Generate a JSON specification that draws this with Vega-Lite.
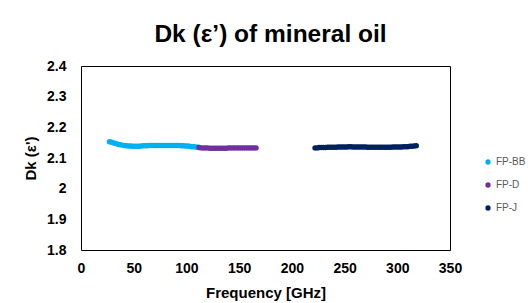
{
  "$schema": "https://vega.github.io/schema/vega-lite/v6.json",
  "width": 369,
  "height": 184,
  "autosize": {"type": "none"},
  "padding": {"left": 81, "top": 66, "right": 82, "bottom": 53},
  "background": "white",
  "title": {
    "text": "Dk (ε’) of mineral oil",
    "font": "Liberation Sans",
    "fontSize": 24.5,
    "fontWeight": "bold",
    "color": "#000000",
    "anchor": "middle",
    "baseline": "alphabetic",
    "offset": -7,
    "dx": 5
  },
  "data": {
    "values": [
      {"f": 27, "dk": 2.153, "s": "FP-BB"}, {"f": 29, "dk": 2.151, "s": "FP-BB"}, {"f": 31, "dk": 2.149, "s": "FP-BB"},
      {"f": 33, "dk": 2.147, "s": "FP-BB"}, {"f": 35, "dk": 2.145, "s": "FP-BB"}, {"f": 37, "dk": 2.143, "s": "FP-BB"},
      {"f": 39, "dk": 2.142, "s": "FP-BB"}, {"f": 41, "dk": 2.141, "s": "FP-BB"}, {"f": 43, "dk": 2.140, "s": "FP-BB"},
      {"f": 45, "dk": 2.139, "s": "FP-BB"}, {"f": 47, "dk": 2.139, "s": "FP-BB"}, {"f": 49, "dk": 2.138, "s": "FP-BB"},
      {"f": 51, "dk": 2.138, "s": "FP-BB"}, {"f": 53, "dk": 2.138, "s": "FP-BB"}, {"f": 55, "dk": 2.138, "s": "FP-BB"},
      {"f": 57, "dk": 2.139, "s": "FP-BB"}, {"f": 59, "dk": 2.140, "s": "FP-BB"}, {"f": 61, "dk": 2.140, "s": "FP-BB"},
      {"f": 63, "dk": 2.140, "s": "FP-BB"}, {"f": 65, "dk": 2.141, "s": "FP-BB"}, {"f": 67, "dk": 2.141, "s": "FP-BB"},
      {"f": 69, "dk": 2.141, "s": "FP-BB"}, {"f": 71, "dk": 2.141, "s": "FP-BB"}, {"f": 73, "dk": 2.141, "s": "FP-BB"},
      {"f": 75, "dk": 2.141, "s": "FP-BB"}, {"f": 77, "dk": 2.141, "s": "FP-BB"}, {"f": 79, "dk": 2.141, "s": "FP-BB"},
      {"f": 81, "dk": 2.141, "s": "FP-BB"}, {"f": 83, "dk": 2.141, "s": "FP-BB"}, {"f": 85, "dk": 2.141, "s": "FP-BB"},
      {"f": 87, "dk": 2.141, "s": "FP-BB"}, {"f": 89, "dk": 2.141, "s": "FP-BB"}, {"f": 91, "dk": 2.141, "s": "FP-BB"},
      {"f": 93, "dk": 2.141, "s": "FP-BB"}, {"f": 95, "dk": 2.140, "s": "FP-BB"}, {"f": 97, "dk": 2.140, "s": "FP-BB"},
      {"f": 99, "dk": 2.139, "s": "FP-BB"}, {"f": 101, "dk": 2.139, "s": "FP-BB"}, {"f": 103, "dk": 2.138, "s": "FP-BB"},
      {"f": 105, "dk": 2.137, "s": "FP-BB"}, {"f": 107, "dk": 2.137, "s": "FP-BB"}, {"f": 109, "dk": 2.136, "s": "FP-BB"},
      {"f": 111, "dk": 2.135, "s": "FP-BB"},
      {"f": 112, "dk": 2.134, "s": "FP-D"}, {"f": 114, "dk": 2.133, "s": "FP-D"}, {"f": 116, "dk": 2.133, "s": "FP-D"},
      {"f": 118, "dk": 2.133, "s": "FP-D"}, {"f": 120, "dk": 2.133, "s": "FP-D"}, {"f": 122, "dk": 2.132, "s": "FP-D"},
      {"f": 124, "dk": 2.132, "s": "FP-D"}, {"f": 126, "dk": 2.132, "s": "FP-D"}, {"f": 128, "dk": 2.132, "s": "FP-D"},
      {"f": 130, "dk": 2.132, "s": "FP-D"}, {"f": 132, "dk": 2.132, "s": "FP-D"}, {"f": 134, "dk": 2.132, "s": "FP-D"},
      {"f": 136, "dk": 2.132, "s": "FP-D"}, {"f": 138, "dk": 2.132, "s": "FP-D"}, {"f": 140, "dk": 2.133, "s": "FP-D"},
      {"f": 142, "dk": 2.133, "s": "FP-D"}, {"f": 144, "dk": 2.133, "s": "FP-D"}, {"f": 146, "dk": 2.133, "s": "FP-D"},
      {"f": 148, "dk": 2.133, "s": "FP-D"}, {"f": 150, "dk": 2.133, "s": "FP-D"}, {"f": 152, "dk": 2.133, "s": "FP-D"},
      {"f": 154, "dk": 2.133, "s": "FP-D"}, {"f": 156, "dk": 2.133, "s": "FP-D"}, {"f": 158, "dk": 2.133, "s": "FP-D"},
      {"f": 160, "dk": 2.133, "s": "FP-D"}, {"f": 162, "dk": 2.133, "s": "FP-D"}, {"f": 164, "dk": 2.133, "s": "FP-D"},
      {"f": 166, "dk": 2.133, "s": "FP-D"},
      {"f": 222, "dk": 2.133, "s": "FP-J"}, {"f": 224, "dk": 2.133, "s": "FP-J"}, {"f": 226, "dk": 2.134, "s": "FP-J"},
      {"f": 228, "dk": 2.134, "s": "FP-J"}, {"f": 230, "dk": 2.134, "s": "FP-J"}, {"f": 232, "dk": 2.134, "s": "FP-J"},
      {"f": 234, "dk": 2.135, "s": "FP-J"}, {"f": 236, "dk": 2.135, "s": "FP-J"}, {"f": 238, "dk": 2.135, "s": "FP-J"},
      {"f": 240, "dk": 2.135, "s": "FP-J"}, {"f": 242, "dk": 2.135, "s": "FP-J"}, {"f": 244, "dk": 2.136, "s": "FP-J"},
      {"f": 246, "dk": 2.136, "s": "FP-J"}, {"f": 248, "dk": 2.136, "s": "FP-J"}, {"f": 250, "dk": 2.136, "s": "FP-J"},
      {"f": 252, "dk": 2.136, "s": "FP-J"}, {"f": 254, "dk": 2.137, "s": "FP-J"}, {"f": 256, "dk": 2.137, "s": "FP-J"},
      {"f": 258, "dk": 2.136, "s": "FP-J"}, {"f": 260, "dk": 2.136, "s": "FP-J"}, {"f": 262, "dk": 2.136, "s": "FP-J"},
      {"f": 264, "dk": 2.136, "s": "FP-J"}, {"f": 266, "dk": 2.136, "s": "FP-J"}, {"f": 268, "dk": 2.136, "s": "FP-J"},
      {"f": 270, "dk": 2.136, "s": "FP-J"}, {"f": 272, "dk": 2.135, "s": "FP-J"}, {"f": 274, "dk": 2.135, "s": "FP-J"},
      {"f": 276, "dk": 2.135, "s": "FP-J"}, {"f": 278, "dk": 2.135, "s": "FP-J"}, {"f": 280, "dk": 2.135, "s": "FP-J"},
      {"f": 282, "dk": 2.135, "s": "FP-J"}, {"f": 284, "dk": 2.135, "s": "FP-J"}, {"f": 286, "dk": 2.135, "s": "FP-J"},
      {"f": 288, "dk": 2.135, "s": "FP-J"}, {"f": 290, "dk": 2.135, "s": "FP-J"}, {"f": 292, "dk": 2.135, "s": "FP-J"},
      {"f": 294, "dk": 2.135, "s": "FP-J"}, {"f": 296, "dk": 2.136, "s": "FP-J"}, {"f": 298, "dk": 2.136, "s": "FP-J"},
      {"f": 300, "dk": 2.136, "s": "FP-J"}, {"f": 302, "dk": 2.136, "s": "FP-J"}, {"f": 304, "dk": 2.136, "s": "FP-J"},
      {"f": 306, "dk": 2.137, "s": "FP-J"}, {"f": 308, "dk": 2.137, "s": "FP-J"}, {"f": 310, "dk": 2.137, "s": "FP-J"},
      {"f": 312, "dk": 2.138, "s": "FP-J"}, {"f": 314, "dk": 2.138, "s": "FP-J"}, {"f": 316, "dk": 2.139, "s": "FP-J"},
      {"f": 318, "dk": 2.140, "s": "FP-J"}
    ]
  },
  "mark": {"type": "point", "filled": true, "opacity": 1, "size": 30, "shape": "circle"},
  "encoding": {
    "x": {
      "field": "f", "type": "quantitative", "title": "Frequency [GHz]",
      "scale": {"domain": [0, 350], "nice": false},
      "axis": {"values": [0, 50, 100, 150, 200, 250, 300, 350], "grid": false, "ticks": false, "domain": false,
        "labelFont": "Liberation Sans", "labelFontSize": 14, "labelFontWeight": "bold", "labelColor": "#000000",
        "labelPadding": 11, "labelFlush": false,
        "titleFont": "Liberation Sans", "titleFontSize": 15, "titleFontWeight": "bold", "titleColor": "#000000", "titlePadding": 10}
    },
    "y": {
      "field": "dk", "type": "quantitative", "title": "Dk (ε')",
      "scale": {"domain": [1.8, 2.4], "nice": false, "zero": false},
      "axis": {"values": [1.8, 1.9, 2.0, 2.1, 2.2, 2.3, 2.4], "format": "~g", "grid": false, "ticks": false, "domain": false,
        "labelFont": "Liberation Sans", "labelFontSize": 14, "labelFontWeight": "bold", "labelColor": "#000000",
        "labelPadding": 15, "labelFlush": false,
        "titleFont": "Liberation Sans", "titleFontSize": 15, "titleFontWeight": "bold", "titleColor": "#000000", "titlePadding": 8}
    },
    "color": {
      "field": "s", "type": "nominal",
      "scale": {"domain": ["FP-BB", "FP-D", "FP-J"], "range": ["#00B0F0", "#7030A0", "#002060"]},
      "legend": {"title": null, "orient": "none", "legendX": 402, "legendY": 91, "padding": 0,
        "symbolType": "circle", "symbolSize": 28, "symbolStrokeWidth": 0,
        "labelFont": "Liberation Sans", "labelFontSize": 10, "labelColor": "#595959", "labelOffset": 3,
        "rowPadding": 13}
    }
  },
  "config": {
    "view": {"stroke": "#000000", "strokeWidth": 1}
  }
}
